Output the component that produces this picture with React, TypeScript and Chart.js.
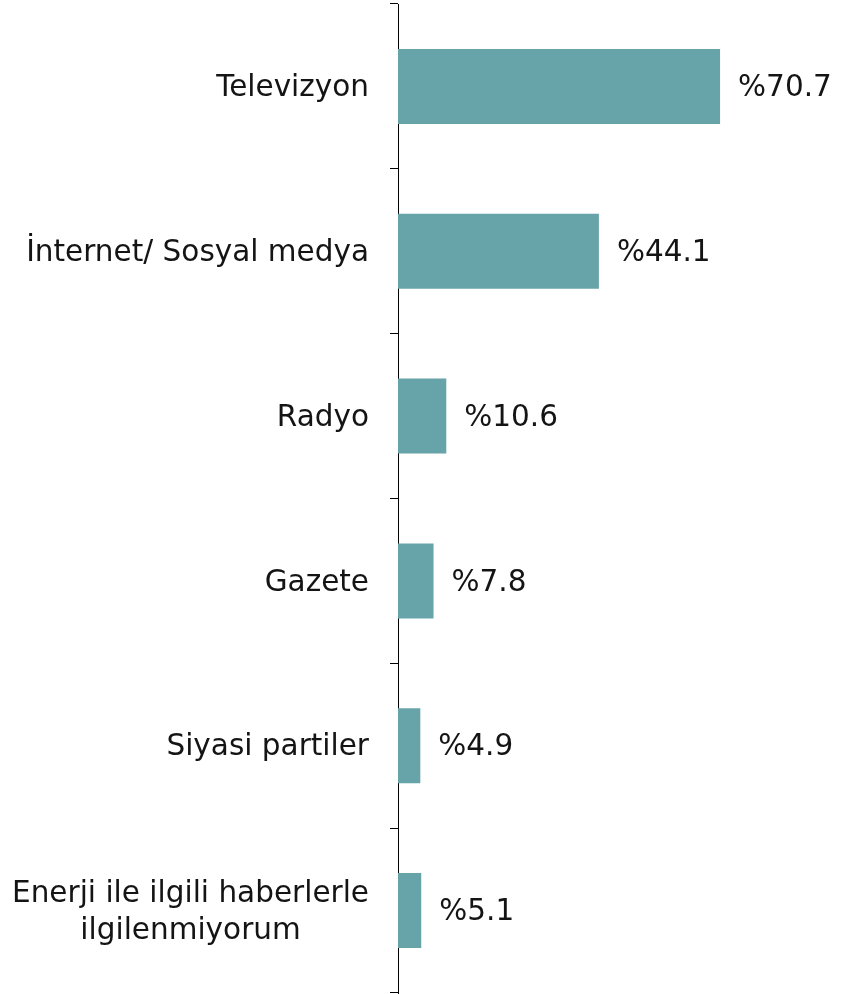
import React, { useEffect, useRef } from "react";
import { Chart, registerables } from "chart.js";

Chart.register(...registerables);

const categories: (string | string[])[] = [
  "Televizyon",
  "İnternet/ Sosyal medya",
  "Radyo",
  "Gazete",
  "Siyasi partiler",
  ["Enerji ile ilgili haberlerle", "ilgilenmiyorum"],
];
const values = [70.7, 44.1, 10.6, 7.8, 4.9, 5.1];

const FONT = '"DejaVu Sans", Verdana, sans-serif';
const FONT_SIZE = 29.5;
const TEXT_COLOR = "#141414";
const BAR_COLOR = "#67a4aa";

const valueLabels = {
  id: "valueLabels",
  afterDatasetsDraw(chart: any) {
    const ctx = chart.ctx;
    const meta = chart.getDatasetMeta(0);
    ctx.save();
    ctx.font = `${FONT_SIZE}px ${FONT}`;
    ctx.fillStyle = TEXT_COLOR;
    ctx.textAlign = "left";
    ctx.textBaseline = "middle";
    meta.data.forEach((bar: any, i: number) => {
      ctx.fillText("%" + values[i].toFixed(1), bar.x + 18, bar.y + 2);
    });
    ctx.restore();
  },
};

const categoryLabels = {
  id: "categoryLabels",
  afterDraw(chart: any) {
    const ctx = chart.ctx;
    const scale = chart.scales.y;
    const right = chart.chartArea.left - 8 - 21;
    const lineH = 37;
    ctx.save();
    ctx.font = `${FONT_SIZE}px ${FONT}`;
    ctx.fillStyle = TEXT_COLOR;
    ctx.textBaseline = "middle";
    categories.forEach((lab, i) => {
      const y = scale.getPixelForTick(i) + 2;
      const lines = Array.isArray(lab) ? lab : [lab];
      const widest = Math.max(...lines.map((l) => ctx.measureText(l).width));
      const cx = right - widest / 2;
      ctx.textAlign = "center";
      lines.forEach((l, k) => {
        const ly = y + (k - (lines.length - 1) / 2) * lineH;
        ctx.fillText(l, cx, ly);
      });
    });
    ctx.restore();
  },
};

export default function App() {
  const ref = useRef<HTMLCanvasElement | null>(null);
  useEffect(() => {
    document.body.style.margin = "0";
    const chart = new Chart(ref.current!, {
      type: "bar",
      data: {
        labels: categories as any,
        datasets: [
          {
            data: values,
            backgroundColor: BAR_COLOR,
            borderWidth: 0,
            categoryPercentage: 1,
            barPercentage: 0.455,
          },
        ],
      },
      options: {
        indexAxis: "y",
        animation: false,
        responsive: false,
        layout: { padding: { top: 4, bottom: 1, left: 0, right: 33 } },
        plugins: { legend: { display: false }, tooltip: { enabled: false } },
        scales: {
          x: { display: false, min: 0, max: 90 },
          y: {
            offset: true,
            border: { display: true, color: "#000", width: 1 },
            grid: {
              offset: true,
              drawOnChartArea: false,
              drawTicks: true,
              tickLength: 8,
              tickWidth: 1,
              tickColor: "#000",
              color: "#000",
            },
            ticks: { display: false },
            afterFit(scale: any) {
              scale.width = 398;
            },
          },
        },
      },
      plugins: [valueLabels, categoryLabels],
    });
    return () => chart.destroy();
  }, []);
  return (
    <div style={{ width: 841, height: 994 }}>
      <canvas ref={ref} width={841} height={994} style={{ display: "block" }} />
    </div>
  );
}
